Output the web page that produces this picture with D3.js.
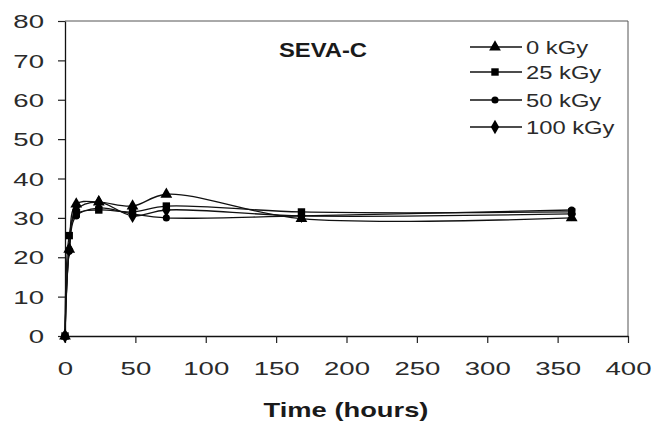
<!DOCTYPE html>
<html><head><meta charset="utf-8">
<script src="https://cdn.jsdelivr.net/npm/d3@7/dist/d3.min.js"></script>
<style>body{margin:0;background:#fff}svg{display:block}text{font-family:"Liberation Sans",Arial,sans-serif}</style>
</head><body><svg id="c" width="665" height="427"></svg>
<script>
const times = [0, 3, 8, 24, 48, 72, 168, 360];
const kGy0   = [0, 22, 33.5, 34, 33, 36, 29.8, 30];
const kGy25  = [0, 25.5, 31, 32, 31.5, 33, 31.5, 31.5];
const kGy50  = [0, 21.5, 30.5, 32.5, 31, 30, 30.5, 32];
const kGy100 = [0, 22, 32, 34, 30.5, 32, 30.5, 31];
const seriesNames = ["0 kGy", "25 kGy", "50 kGy", "100 kGy"];
const xTicks = [0, 50, 100, 150, 200, 250, 300, 350, 400];
const yTicks = [0, 10, 20, 30, 40, 50, 60, 70, 80];

const series = [
  {name: seriesNames[0], vals: kGy0, sym: d3.symbolTriangle, size: 60},
  {name: seriesNames[1], vals: kGy25, sym: d3.symbolSquare, size: 55},
  {name: seriesNames[2], vals: kGy50, sym: d3.symbolCircle, size: 40},
  {name: seriesNames[3], vals: kGy100, sym: d3.symbolDiamond, size: 60}
];

const svg = d3.select("#c");
const L = 65, R = 628, T = 21, B = 336;
const x = d3.scaleLinear().domain([0, 400]).range([L, R]);
const y = d3.scaleLinear().domain([0, 80]).range([B, T]);

function stretch(sel, f) {
  sel.each(function() {
    const len = this.getComputedTextLength();
    d3.select(this).attr("textLength", len * f).attr("lengthAdjust", "spacingAndGlyphs");
  });
}

// frame
svg.append("path").attr("d", `M${L},${T}H${R}V${B}`).attr("fill","none").attr("stroke","#555").attr("stroke-width",1);

const xa = svg.append("g").attr("transform", `translate(0,${B})`)
  .call(d3.axisBottom(x).tickValues(xTicks).tickSize(7).tickPadding(19).tickSizeOuter(0));
const ya = svg.append("g").attr("transform", `translate(${L},0)`)
  .call(d3.axisLeft(y).tickValues(yTicks).tickSize(7).tickPadding(14).tickSizeOuter(0));
[xa, ya].forEach(g => {
  g.select(".domain").attr("stroke","#111").attr("stroke-width",1.3);
  g.selectAll(".tick line").attr("stroke","#222").attr("stroke-width",1.2);
  g.selectAll(".tick text").attr("fill","#2a2a2a").style("font-size","19px").style("font-family","'Liberation Sans',Arial,sans-serif");
  stretch(g.selectAll(".tick text"), 1.45);
});
ya.selectAll(".tick text").attr("dy","0.35em");

const line = d3.line().x((d,i)=>x(times[i])).y(d=>y(d)).curve(d3.curveCatmullRom.alpha(0.5));
series.forEach(s => {
  svg.append("path").datum(s.vals).attr("d", line).attr("fill","none").attr("stroke","#111").attr("stroke-width",1.3);
});
series.forEach(s => {
  svg.append("g").selectAll("path").data(s.vals).join("path")
    .attr("transform",(d,i)=>`translate(${x(times[i])},${y(d)})`)
    .attr("d", d3.symbol().type(s.sym).size(s.size)).attr("fill","#000");
});

// title
const t1 = svg.append("text").attr("x",323).attr("y",57).attr("text-anchor","middle")
  .style("font-size","20px").style("font-weight","bold").attr("fill","#1a1a1a").text("SEVA-C");
stretch(t1, 1.19);
// axis title
const t2 = svg.append("text").attr("x",346).attr("y",417).attr("text-anchor","middle")
  .style("font-size","21px").style("font-weight","bold").attr("fill","#1a1a1a").text("Time (hours)");
stretch(t2, 1.3);

// legend
const legY = [47, 72, 100, 127];
series.forEach((s,i) => {
  const g = svg.append("g").attr("transform",`translate(0,${legY[i]})`);
  g.append("line").attr("x1",470).attr("x2",522).attr("y1",0).attr("y2",0).attr("stroke","#111").attr("stroke-width",1.3);
  g.append("path").attr("transform","translate(495,0)").attr("d", d3.symbol().type(s.sym).size(s.size)).attr("fill","#000");
  const tx = g.append("text").attr("x",526).attr("y",0).attr("dy","0.36em").style("font-size","19px").attr("fill","#2a2a2a").text(s.name);
  stretch(tx, 1.25);
});
</script></body></html>
